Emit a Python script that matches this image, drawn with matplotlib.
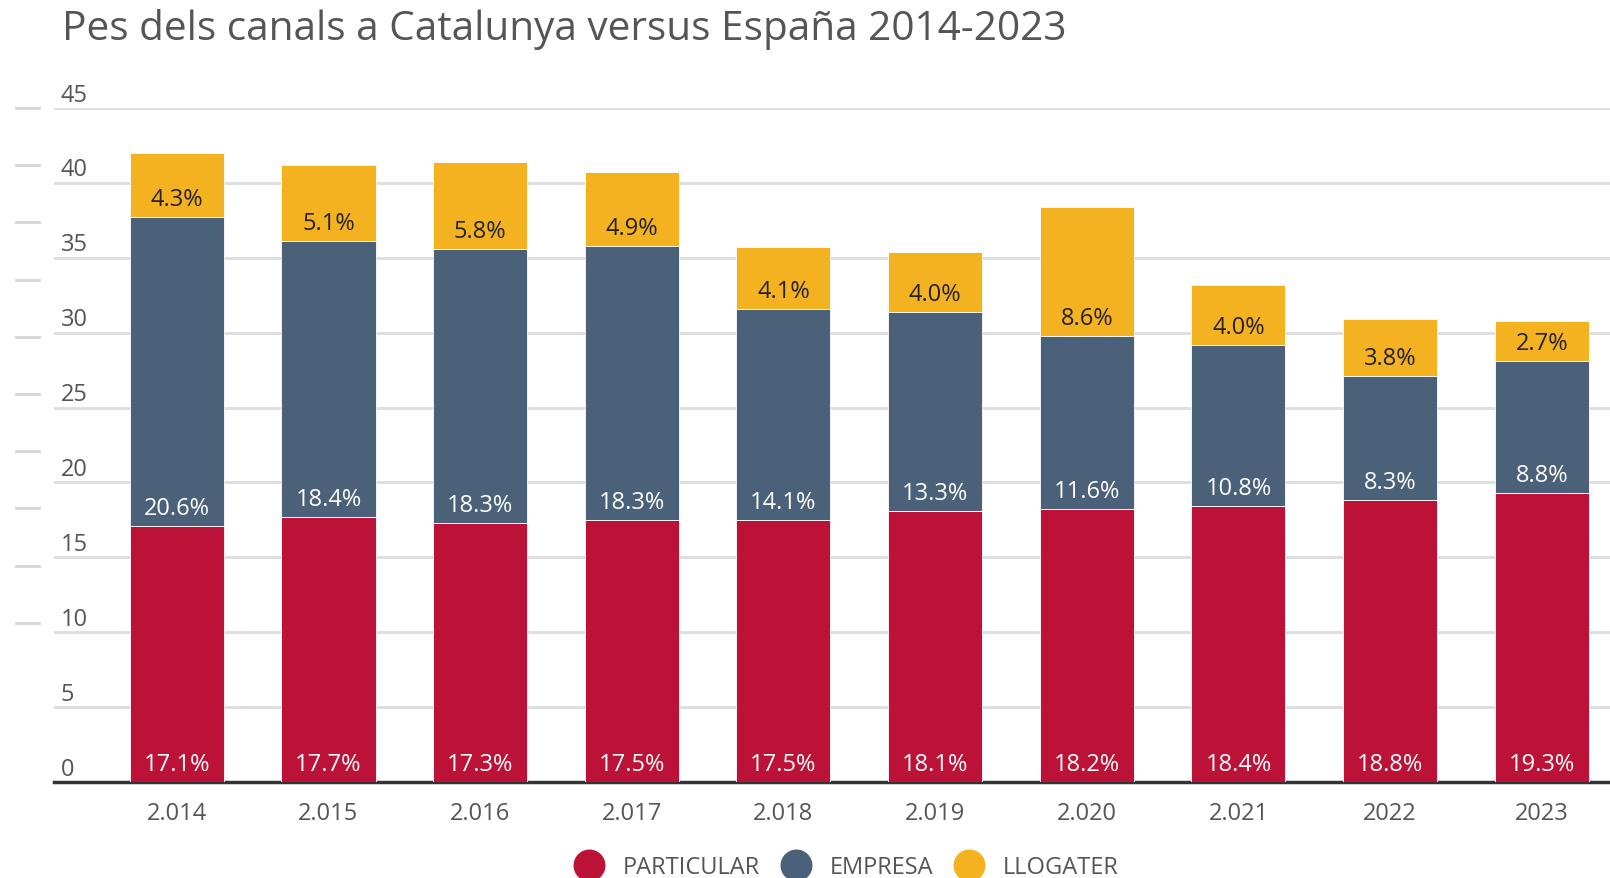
import matplotlib
matplotlib.use("Agg")
import matplotlib.pyplot as plt
from matplotlib.lines import Line2D
import numpy as np

# data
years = ["2.014", "2.015", "2.016", "2.017", "2.018", "2.019", "2.020", "2.021", "2022", "2023"]
particular = [17.1, 17.7, 17.3, 17.5, 17.5, 18.1, 18.2, 18.4, 18.8, 19.3]
empresa = [20.6, 18.4, 18.3, 18.3, 14.1, 13.3, 11.6, 10.8, 8.3, 8.8]
llogater = [4.3, 5.1, 5.8, 4.9, 4.1, 4.0, 8.6, 4.0, 3.8, 2.7]
series_names = ["PARTICULAR", "EMPRESA", "LLOGATER"]
yticks = [0, 5, 10, 15, 20, 25, 30, 35, 40, 45]

RED = "#BC1238"
BLUE = "#4B6079"
YELLOW = "#F4B120"
GREY = "#555555"

plt.rcParams["font.family"] = ["Open Sans", "DejaVu Sans"]

W, H = 1610, 879
fig = plt.figure(figsize=(W / 100, H / 100), dpi=100)
ax = fig.add_axes([54 / W, 1 - 783 / H, (W - 54) / W, (783 - 109) / H])

x = np.arange(len(years))
bw = 0.62
p = np.array(particular)
e = np.array(empresa)
l = np.array(llogater)

ax.bar(x, p, bw, color=RED, edgecolor="white", linewidth=0.6, zorder=3)
ax.bar(x, e, bw, bottom=p, color=BLUE, edgecolor="white", linewidth=0.6, zorder=3)
ax.bar(x, l, bw, bottom=p + e, color=YELLOW, edgecolor="white", linewidth=0.6, zorder=3)

for i in range(len(years)):
    for val, base, col in [(p[i], 0, "white"), (e[i], p[i], "white"), (l[i], p[i] + e[i], "#222222")]:
        ax.annotate(f"{val:.1f}%", (x[i], base), xytext=(0, 13), textcoords="offset points",
                    ha="center", va="center", fontsize=17, color=col, zorder=4)

ax.set_xlim(-0.81, 9.45)
ax.set_ylim(0, 45)

# gridlines + y labels sitting above the line
for t in yticks:
    if t > 0:
        ax.axhline(t, color="#dddddd", linewidth=2, zorder=1)
    ax.annotate(str(t), (0, t), xycoords=("axes fraction", "data"), xytext=(5, 1),
                textcoords="offset points", ha="left", va="bottom", fontsize=17, color=GREY)
ax.set_yticks([])
ax.set_xticks(x)
ax.set_xticklabels(years, fontsize=17, color=GREY)
ax.tick_params(axis="x", length=0, pad=14)

for s in ["top", "right", "left"]:
    ax.spines[s].set_visible(False)
ax.spines["bottom"].set_color("#333333")
ax.spines["bottom"].set_linewidth(2.5)

# small dashes on the far left
for k in range(10):
    yy = 1 - (109 + k * 57.2) / H
    fig.add_artist(Line2D([16 / W, 39 / W], [yy, yy], color="#d5d5d5", linewidth=2))

fig.text(62 / W, 1 - 30 / H, "Pes dels canals a Catalunya versus España 2014-2023",
         fontsize=29.2, color=GREY, ha="left", va="center")

handles = [Line2D([], [], marker="o", linestyle="", markersize=22, color=c) for c in [RED, BLUE, YELLOW]]
fig.legend(handles, series_names, loc="center", bbox_to_anchor=(0.523, 1 - 868 / H), ncol=3,
           frameon=False, prop={"size": 17}, labelcolor=GREY,
           handletextpad=0.45, columnspacing=0.5)

fig.savefig("out.png", dpi=100)
